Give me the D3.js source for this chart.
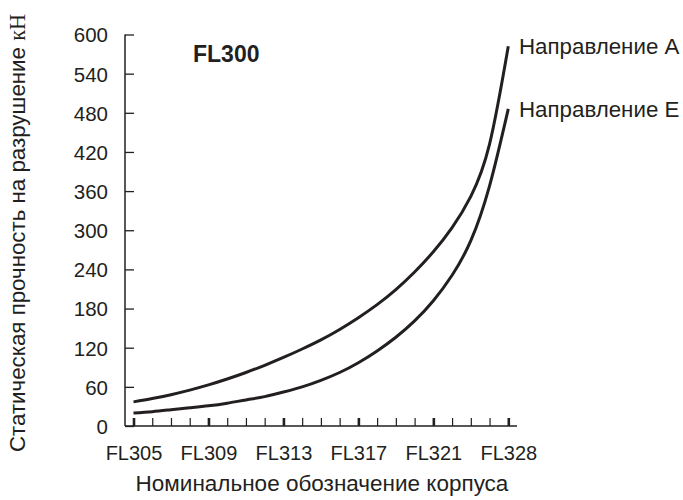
<!DOCTYPE html>
<html><head><meta charset="utf-8">
<script src="https://cdn.jsdelivr.net/npm/d3@7"></script>
<style>
body{margin:0;background:#fff;}
text{font-family:"Liberation Sans",Arial,sans-serif;fill:#231f20;}
</style></head>
<body><svg id="c" width="683" height="500"></svg>
<script>
const categories = ["FL305","FL306","FL307","FL308","FL309","FL310","FL311","FL312","FL313","FL314","FL315","FL316","FL317","FL318","FL319","FL320","FL321","FL322","FL323","FL325","FL328"];
const tickLabels = ["FL305","FL309","FL313","FL317","FL321","FL328"];
const seriesA = [37,42,48,55,63,72,82,93,105,118,132,148,166,186,209,236,267,304,352,432,582];
const seriesE = [20,22,25,28,31,35,40,45,52,60,70,82,97,115,136,161,192,231,284,368,486];
const yTicks = [0,60,120,180,240,300,360,420,480,540,600];
const seriesNames = ["Направление А","Направление Е"];

const svg = d3.select("#c");
const ink = "#231f20";
const X0 = 125, X1 = 517, Y0 = 426, Y1 = 34.5;
const x = d3.scalePoint().domain(categories).range([133.5, 508.3]);
const y = d3.scaleLinear().domain([0,600]).range([Y0, Y1]);

svg.append("line").attr("x1",X0).attr("x2",X0).attr("y1",Y1).attr("y2",Y0).attr("stroke",ink).attr("stroke-width",1.5);
svg.append("line").attr("x1",X0).attr("x2",X1).attr("y1",Y0).attr("y2",Y0).attr("stroke",ink).attr("stroke-width",1.5);

const yAxis = d3.axisLeft(y).tickValues(yTicks).tickSize(-9).tickPadding(17);
const gy = svg.append("g").attr("transform",`translate(${X0},0)`).call(yAxis);
gy.select(".domain").remove();
gy.selectAll(".tick line").attr("stroke",ink).attr("stroke-width",1.3);
gy.selectAll(".tick text").attr("font-size",20.5).attr("font-family","Liberation Sans, Arial, sans-serif").attr("fill",ink).attr("dy","0.36em");

const xAxis = d3.axisBottom(x).tickSize(-8).tickPadding(20).tickFormat(d => tickLabels.includes(d) ? d : "");
const gx = svg.append("g").attr("transform",`translate(0,${Y0})`).call(xAxis);
gx.select(".domain").remove();
gx.selectAll(".tick line").attr("stroke",ink).attr("stroke-width", d => tickLabels.includes(d) ? 2.6 : 1.2);
gx.selectAll(".tick text").attr("font-size",20).attr("font-family","Liberation Sans, Arial, sans-serif").attr("fill",ink);

const line = d3.line().x((d,i)=>x(categories[i])).y(d=>y(d)).curve(d3.curveNatural);
[seriesA, seriesE].forEach(s=>{
  svg.append("path").attr("d",line(s)).attr("fill","none").attr("stroke",ink).attr("stroke-width",3);
});

svg.append("text").attr("x",519).attr("y",54).attr("font-size",22.3).text(seriesNames[0]);
svg.append("text").attr("x",519).attr("y",117).attr("font-size",22.3).text(seriesNames[1]);

svg.append("text").attr("x",193).attr("y",62).attr("font-size",23).attr("font-weight","bold").text("FL300");

svg.append("text").attr("x",322).attr("y",491).attr("text-anchor","middle").attr("font-size",22.5).text("Номинальное обозначение корпуса");
const yt = svg.append("text").attr("transform","translate(25,233) rotate(-90)").attr("text-anchor","middle").attr("font-size",22.3);
yt.append("tspan").text("Статическая прочность на разрушение ");
yt.append("tspan").attr("font-family","Liberation Serif, serif").text("кН");
</script></body></html>
